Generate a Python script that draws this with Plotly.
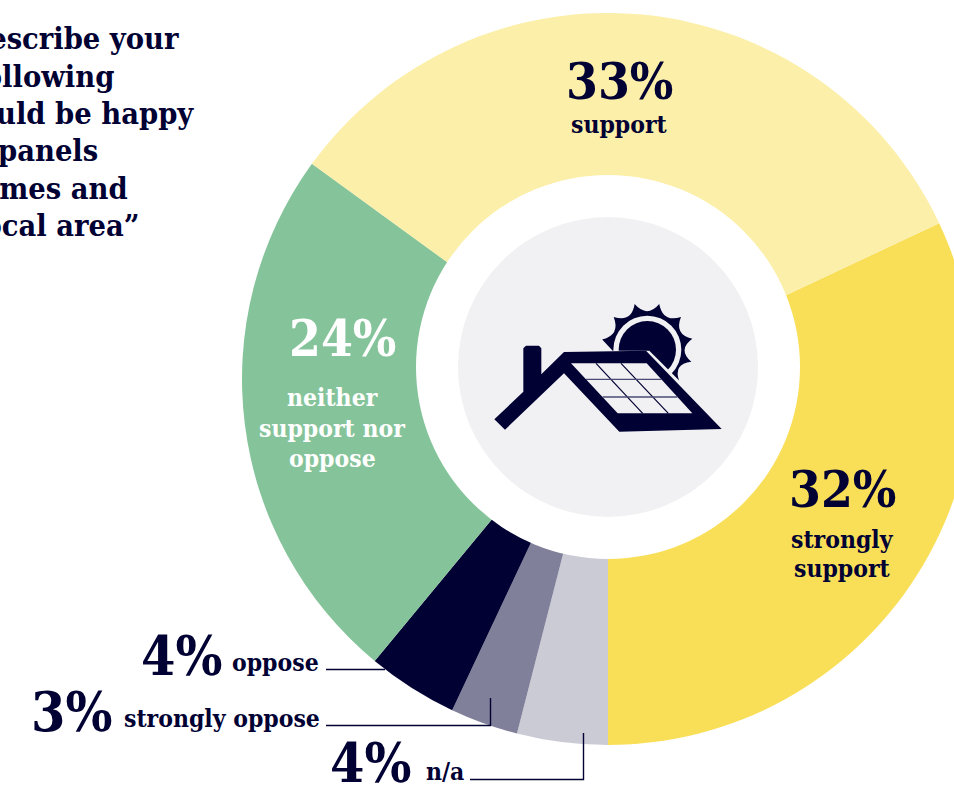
import math
import plotly.graph_objects as go

# Survey shares, clockwise from the start of "strongly support"
categories = ["strongly support", "n/a", "strongly oppose", "oppose", "neither support nor oppose", "support"]
shares = [32, 4, 3, 4, 24, 33]
slice_colours = ["#F9DF58", "#CBCBD6", "#80809A", "#010133", "#85C49A", "#FCEFA9"]

question_lines = ["describe your", "following", "would be happy", "solar panels", "homes and", "local area”"]

NAVY = "#010133"
WHITE = "#FFFFFF"
W, H = 976, 787
SERIF = "DejaVu Serif Condensed"


def px(x):
    return x / W


def py(y):
    return 1 - y / H


def zx(x):
    # icon artwork is laid out in its own 3x grid
    return px(440 + x / 3)


def zy(y):
    return py(280 + y / 3)


def poly(points, closed=True):
    d = "M " + " L ".join(f"{zx(a):.5f},{zy(b):.5f}" for a, b in points)
    return d + (" Z" if closed else "")


def circle(cx, cy, r, colour):
    return dict(type="circle", xref="paper", yref="paper", layer="above",
                x0=px(cx - r), x1=px(cx + r), y0=py(cy + r), y1=py(cy - r),
                fillcolor=colour, line_width=0)


def filled(path, colour):
    return dict(type="path", xref="paper", yref="paper", layer="above", path=path,
                fillcolor=colour, line_width=0)


def rule(points, colour=NAVY, width=1.4, icon=False):
    if icon:
        path = poly(points, closed=False)
    else:
        path = "M " + " L ".join(f"{px(a):.5f},{py(b):.5f}" for a, b in points)
    return dict(type="path", xref="paper", yref="paper", layer="above", path=path,
                line=dict(color=colour, width=width))


def sun_rays():
    # scalloped rays around the sun, in icon grid units
    cx, cy = 622, 205
    tips = [-79, -47, -16, 15, 47, 78, 107, 136]

    def pt(angle, r):
        a = math.radians(angle)
        return cx + r * math.sin(a), cy - r * math.cos(a)

    x0, y0 = pt(tips[0], 138)
    d = f"M {zx(x0):.5f},{zy(y0):.5f}"
    for a, b in zip(tips, tips[1:]):
        qx, qy = pt((a + b) / 2, 90)
        ex, ey = pt(b, 138)
        d += f" Q {zx(qx):.5f},{zy(qy):.5f} {zx(ex):.5f},{zy(ey):.5f}"
    d += f" L {zx(695):.5f},{zy(288):.5f} L {zx(622):.5f},{zy(205):.5f} L {zx(518):.5f},{zy(212):.5f} Z"
    return d


shapes = [
    circle(608, 367, 192, WHITE),
    circle(608, 367, 150, "#F1F1F3"),
    # sun
    filled(sun_rays(), NAVY),
    circle(440 + 622 / 3, 280 + 209 / 3, 102 / 3, "#F1F1F3"),
    circle(440 + 622 / 3, 280 + 209 / 3, 86 / 3, NAVY),
    filled(poly([(525, 212), (628, 212), (728, 312), (700, 340), (525, 300)]), "#F1F1F3"),
    # roof and panel frame
    filled(poly([(163, 418), (250, 335), (250, 205), (258, 197), (297, 197), (304, 205), (304, 283),
                 (372, 216), (618, 212), (845, 447), (538, 455), (372, 280), (195, 449)]), NAVY),
    # solar cells
    filled(poly([(393, 250), (620, 250), (757, 400), (533, 400)]), "#F1F1F3"),
    rule([(468, 250), (608, 400)], width=1.2, icon=True),
    rule([(543, 250), (685, 400)], width=1.2, icon=True),
    rule([(438, 298), (665, 298)], colour="#4A4A74", width=1.4, icon=True),
    rule([(488, 351), (712, 351)], colour="#4A4A74", width=1.4, icon=True),
    # leader lines for the narrow slices
    rule([(326, 669.5), (385, 669.5)]),
    rule([(326, 725.5), (490.5, 725.5), (490.5, 698)]),
    rule([(470, 779.5), (583.5, 779.5), (583.5, 733)]),
]


def label(text, x, y, size, colour=NAVY, anchor="center"):
    return dict(text=text, x=px(x + (3 if anchor == "right" else 0)), y=py(y), xref="paper", yref="paper",
                xanchor=anchor, yanchor="middle", showarrow=False,
                font=dict(family=SERIF, size=size, color=colour, weight="bold"))


def pct(category):
    return f"{shares[categories.index(category)]}%"


BIG = 51
SMALL = 55
TXT = 24.5
annotations = [
    label(pct("support"), 619, 81, BIG),
    label("support", 619, 125, TXT),
    label(pct("strongly support"), 842, 489, BIG),
    label("strongly", 842, 539, TXT),
    label("support", 842, 568, TXT),
    label(pct("neither support nor oppose"), 342, 338, BIG, WHITE),
    label("neither", 332, 398, TXT, WHITE),
    label("support nor", 332, 428, TXT, WHITE),
    label("oppose", 332, 458, TXT, WHITE),
    label(pct("oppose"), 221, 655, SMALL, anchor="right"),
    label("oppose", 318, 662, TXT, anchor="right"),
    label(pct("strongly oppose"), 111, 711, SMALL, anchor="right"),
    label("strongly oppose", 319, 718, TXT, anchor="right"),
    label(pct("n/a"), 410, 762, SMALL, anchor="right"),
    label("n/a", 463, 771, TXT, anchor="right"),
]

# Question text runs off the left edge of the page
line_ends = [178, 113, 193, 97, 127, 138]
line_centres = [38, 76, 113, 150, 188, 225]
for line, end, centre in zip(question_lines, line_ends, line_centres):
    annotations.append(label(line, end, centre, 30.5, anchor="right"))

fig = go.Figure(go.Pie(
    labels=categories,
    values=shares,
    sort=False,
    direction="clockwise",
    rotation=64.8,
    hole=0,
    textinfo="none",
    hoverinfo="label+percent",
    marker=dict(colors=slice_colours, line=dict(width=0)),
    domain=dict(x=[px(242), px(974)], y=[py(745), py(13)]),
))
fig.update_layout(
    width=W, height=H,
    margin=dict(l=0, r=0, t=0, b=0),
    paper_bgcolor=WHITE,
    showlegend=False,
    shapes=shapes,
    annotations=annotations,
)
fig.write_html("out.html", post_script="document.documentElement.style.overflow='hidden';document.body.style.overflow='hidden';document.body.style.margin='0';")
